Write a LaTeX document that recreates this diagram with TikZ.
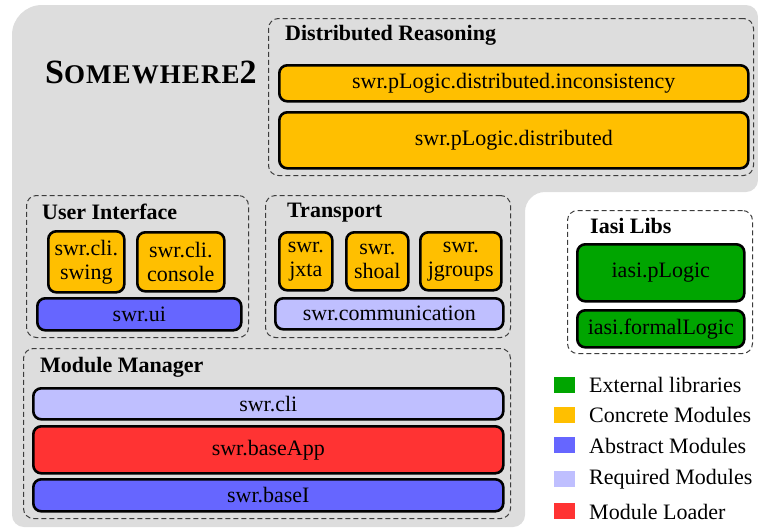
\documentclass[tikz,border=0pt]{standalone}
\usepackage{fontspec}
\setmainfont{Liberation Serif}
\definecolor{bggray}{RGB}{221,221,221}
\definecolor{extgreen}{RGB}{0,165,0}
\definecolor{concyellow}{RGB}{255,191,0}
\definecolor{absblue}{RGB}{102,102,255}
\definecolor{reqblue}{RGB}{191,191,255}
\definecolor{loadred}{RGB}{255,51,51}
\definecolor{dashgray}{RGB}{60,60,60}
\begin{document}
\begin{tikzpicture}[x=1pt,y=-1pt,
  group/.style={draw=dashgray, line width=1pt, dash pattern=on 5pt off 3pt, rounded corners=10pt, anchor=north west, inner sep=0pt},
  modbox/.style={draw=black, line width=2.6pt, rounded corners=8pt, anchor=north west, inner sep=0pt, align=center,
    font=\fontsize{22}{26}\selectfont},
  grouptitle/.style={anchor=west, inner sep=0pt, font=\fontsize{22}{26}\selectfont\bfseries},
  legsq/.style={anchor=north west, inner sep=0pt, minimum width=21pt, minimum height=16pt},
  legtext/.style={anchor=west, inner sep=0pt, font=\fontsize{22}{26}\selectfont},
]
\useasboundingbox (0,0) rectangle (758,531);
% background shape
\fill[bggray] (12,35) [rounded corners=30pt] -- (12,5) [rounded corners=12pt] -- (758,5) -- (758,192)
  [rounded corners=20pt] -- (525,192) [rounded corners=12pt] -- (525,527) -- (12,527) [sharp corners] -- (12,35) -- cycle;

% title
\node[anchor=base west, inner sep=0pt] (title) at (45,83)
  {\bfseries{\fontsize{34}{36}\selectfont S}{\addfontfeature{LetterSpace=4}\fontsize{27}{30}\selectfont OMEWHERE}{\fontsize{34}{36}\selectfont 2}};

% groups
\node[group, minimum width=485pt, minimum height=157pt] (gdr) at (268,18) {};
\node[group, minimum width=222pt, minimum height=142pt] (gui) at (26,195) {};
\node[group, minimum width=245pt, minimum height=142pt] (gtr) at (265,195) {};
\node[group, minimum width=487pt, minimum height=170pt] (gmm) at (23,348) {};
\node[group, minimum width=185pt, minimum height=143pt] (gil) at (567,210) {};

\node[grouptitle] (tdr) at (285,35) {Distributed Reasoning};
\node[grouptitle] (tui) at (42,212) {User Interface};
\node[grouptitle] (ttr) at (287,213) {Transport};
\node[grouptitle] (tmm) at (40,367) {Module Manager};
\node[grouptitle] (til) at (590,226) {Iasi Libs};

% distributed reasoning
\node[modbox, fill=concyellow, minimum width=469pt, minimum height=36pt] (inc) at (278,64) {swr.pLogic.distributed.inconsistency};
\node[modbox, fill=concyellow, minimum width=469pt, minimum height=56pt] (dist) at (278,111) {swr.pLogic.distributed};

% user interface
\node[modbox, fill=concyellow, minimum width=76pt, minimum height=61pt] (swing) at (47,230) {swr.cli.\\[-2pt]swing};
\node[modbox, fill=concyellow, minimum width=87pt, minimum height=59pt] (console) at (136,231) {swr.cli.\\[-2pt]console};
\node[modbox, fill=absblue, minimum width=204pt, minimum height=32pt] (ui) at (36,297) {swr.ui};

% transport
\node[modbox, fill=concyellow, minimum width=53pt, minimum height=58pt] (jxta) at (278,231) {swr.\\[-2pt]jxta};
\node[modbox, fill=concyellow, minimum width=62pt, minimum height=58pt] (shoal) at (345,231) {swr.\\[-2pt]shoal};
\node[modbox, fill=concyellow, minimum width=81pt, minimum height=58pt] (jgroups) at (419,231) {swr.\\[-2pt]jgroups};
\node[modbox, fill=reqblue, minimum width=228pt, minimum height=31pt] (comm) at (274,297) {swr.communication};

% module manager
\node[modbox, fill=reqblue, minimum width=470pt, minimum height=31pt] (cli) at (32,387) {swr.cli};
\node[modbox, fill=loadred, minimum width=470pt, minimum height=47pt] (baseapp) at (32,425) {swr.baseApp};
\node[modbox, fill=absblue, minimum width=470pt, minimum height=32pt] (basei) at (32,478) {swr.baseI};

% iasi libs
\node[modbox, fill=extgreen, minimum width=167pt, minimum height=57pt] (plogic) at (576,243) {iasi.pLogic};
\node[modbox, fill=extgreen, minimum width=167pt, minimum height=37pt] (formal) at (576,309) {iasi.formalLogic};

% legend
\node[legsq, fill=extgreen] (l1) at (554,377) {};
\node[legsq, fill=concyellow] (l2) at (554,407) {};
\node[legsq, fill=absblue] (l3) at (554,437) {};
\node[legsq, fill=reqblue] (l4) at (554,471) {};
\node[legsq, fill=loadred] (l5) at (554,503) {};
\node[legtext] (lt1) at (589,385) {External libraries};
\node[legtext] (lt2) at (589,415) {Concrete Modules};
\node[legtext] (lt3) at (589,446) {Abstract Modules};
\node[legtext] (lt4) at (589,479) {Required Modules};
\node[legtext] (lt5) at (589,512) {Module Loader};
\end{tikzpicture}
\end{document}
